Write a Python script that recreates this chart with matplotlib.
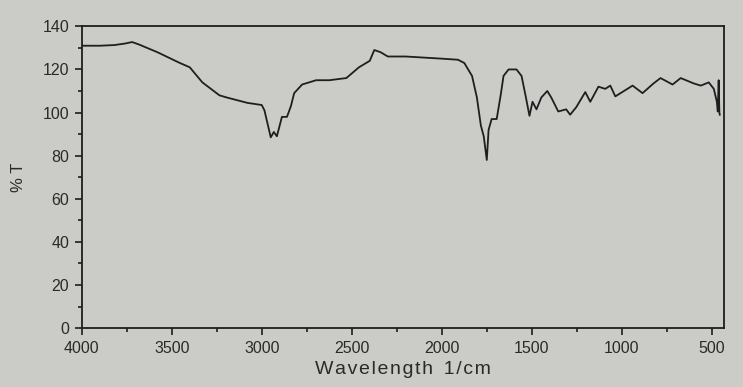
import numpy as np
import matplotlib.pyplot as plt
from matplotlib.ticker import MultipleLocator

# FTIR光谱读数 (波数 cm-1, 透过率 %T)
wavenumber = [4000, 3900, 3820, 3760, 3720, 3680, 3580, 3455, 3400, 3330,
              3235, 3195, 3080, 3000, 2985, 2950, 2933, 2916, 2888, 2860,
              2838, 2820, 2776, 2698, 2625, 2530, 2460, 2400, 2385, 2375,
              2340, 2300, 2200, 2000, 1910, 1875, 1832, 1805, 1783, 1767,
              1750, 1740, 1723, 1695, 1673, 1657, 1629, 1585, 1557, 1535,
              1513, 1496, 1474, 1447, 1414, 1392, 1353, 1309, 1287, 1253,
              1203, 1175, 1130, 1092, 1064, 1036, 940, 885, 824, 785,
              718, 673, 600, 561, 517, 489, 472, 467, 462, 458, 456]
transmittance = [131, 131, 131.3, 132, 132.7, 131.5, 128, 123, 121, 114,
                 108, 107, 104.5, 103.5, 101, 88.5, 91, 89, 98, 98,
                 103, 109, 113, 115, 115, 116, 121, 124, 127, 129,
                 128, 126, 126, 125, 124.5, 123, 117, 107, 94, 89,
                 78, 92, 97, 97, 108, 117, 120, 120, 117, 108,
                 98.5, 105, 101.5, 107, 110, 107, 100.5, 101.5, 99, 102.5,
                 109.5, 105, 112, 111, 112.5, 107.5, 112.5, 109, 113.5, 116,
                 113, 116, 113.5, 112.5, 114, 111, 105, 100.5, 115, 100, 99]

xticks = [4000, 3500, 3000, 2500, 2000, 1500, 1000, 500]
yticks = [0, 20, 40, 60, 80, 100, 120, 140]

bg = '#cbcbc8'
ink = '#1e1e1e'
fig = plt.figure(figsize=(7.43, 3.87), dpi=100, facecolor=bg)
ax = fig.add_axes([0.110, 0.152, 0.865, 0.780], facecolor=bg)

ax.plot(wavenumber, transmittance, color=ink, lw=1.3)

ax.set_xlim(4000, 430)
ax.set_ylim(0, 140)
ax.set_xticks(xticks)
ax.set_yticks(yticks)
ax.xaxis.set_minor_locator(MultipleLocator(250))
ax.yaxis.set_minor_locator(MultipleLocator(10))
ax.tick_params(which='both', direction='out', color=ink, width=1.2,
               labelsize=11.5, labelcolor='#2a2a2a')
ax.tick_params(which='major', length=5, pad=4)
ax.tick_params(which='minor', length=3)
for s in ax.spines.values():
    s.set_color(ink)
    s.set_linewidth(1.3)

for lbl in ax.get_xticklabels() + ax.get_yticklabels():
    lbl.set_family('Liberation Sans')

hair = '\u200a'
ax.set_xlabel(hair.join('Wavelength') + '  ' + hair.join('1/cm'), fontsize=14,
              family=['Liberation Sans', 'DejaVu Sans'], color='#2a2a2a', labelpad=4)
ax.set_ylabel('% T', fontsize=12, family='Liberation Sans', color='#2a2a2a', labelpad=12)

fig.savefig('out.png', dpi=100, facecolor=bg)
